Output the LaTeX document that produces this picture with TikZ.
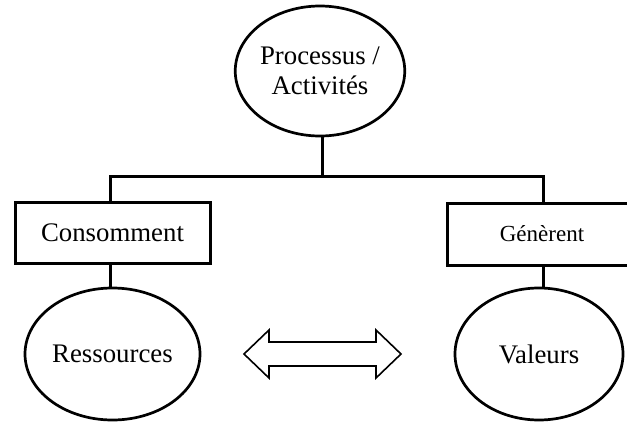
\documentclass[tikz,border=0pt]{standalone}
\usepackage{fontspec}
\setmainfont{Liberation Serif}
\usetikzlibrary{shapes.geometric}
\begin{document}
\begin{tikzpicture}[x=1pt,y=-1pt,
  ell/.style={ellipse,draw,line width=2.7pt,inner sep=0pt,font=\fontsize{26.8}{30}\selectfont,align=center},
  box/.style={rectangle,draw,line width=3pt,inner sep=0pt,font=\fontsize{26.8}{30}\selectfont},
  conn/.style={line width=3pt},
  dbl/.style={draw,line width=1.6pt,line join=miter}]
\useasboundingbox (0,0) rectangle (627,421);
\clip (0,0) rectangle (627,421);
\node[ell,minimum width=168pt,minimum height=130pt] (top) at (320,71) {Processus /\\Activités};
\node[box,minimum width=195pt,minimum height=61pt] (cons) at (112.5,232.5) {Consomment};
\node[box,minimum width=190pt,minimum height=62pt,font=\fontsize{23}{27}\selectfont] (gen) at (542,234) {Génèrent};
\node[ell,minimum width=175pt,minimum height=132pt] (res) at (112.5,354) {Ressources};
\node[ell,minimum width=168pt,minimum height=132pt] (val) at (539,354) {Valeurs};
\draw[dbl] (244,354) -- (269,330) -- (269,342) -- (376,342) -- (376,330) -- (401,354)
  -- (376,378) -- (376,366) -- (269,366) -- (269,378) -- cycle;
\coordinate (busL) at (110,176);
\coordinate (busR) at (543,176);
\draw[conn] (top.south -| 322,0) -- (322,176);
\draw[conn] (busL |- cons.north) -- (busL) -- (busR) -- (busR |- gen.north);
\draw[conn] (busL |- cons.south) -- (busL |- res.north);
\draw[conn] (busR |- gen.south) -- (busR |- val.north);
\end{tikzpicture}
\end{document}
